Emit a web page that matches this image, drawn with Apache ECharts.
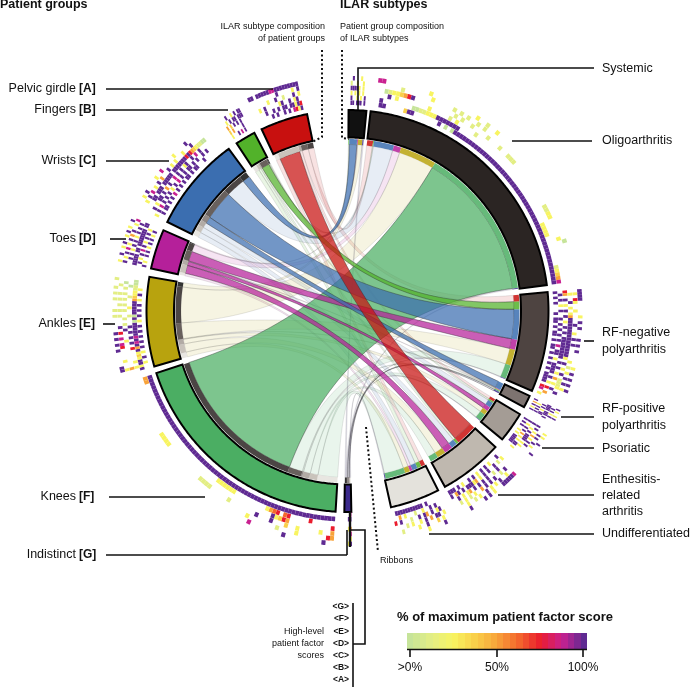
<!DOCTYPE html>
<html><head><meta charset="utf-8">
<style>html,body{margin:0;padding:0;background:#fff}#c{width:695px;height:687px}</style>
<script src="https://cdn.jsdelivr.net/npm/echarts@6/dist/echarts.min.js"></script>
</head><body><div id="c"></div>
<script>
// ---------- data ----------
const patientGroups = ['Pelvic girdle','Fingers','Wrists','Toes','Ankles','Knees','Indistinct'];
const ilarSubtypes = ['Systemic','Oligoarthritis','RF-negative polyarthritis','RF-positive polyarthritis','Psoriatic','Enthesitis-related arthritis','Undifferentiated'];
// flows, rows = patient groups, columns = ILAR subtypes
const flowPelvic     = [0,   2.0,  2.2, 0,   0.9, 7.2, 1.4];
const flowFingers    = [0.3, 0.3,  2.6, 0,   0.5, 0.8, 1.4];
const flowWrists     = [2.6, 6.8, 10.2, 2.3, 1.8, 2.0, 1.8];
const flowToes       = [0.3, 2.5,  3.4, 0.2, 1.4, 2.8, 0.9];
const flowAnkles     = [1.5,12.4,  5.5, 0.2, 1.6, 2.9, 1.7];
const flowKnees      = [0,  51.6,  4.7, 0.4, 2.4, 2.7, 6.8];
const flowIndistinct = [0.4, 0.4,  0.2, 0.5, 0.2, 0,   0.3];
const flows = [flowPelvic,flowFingers,flowWrists,flowToes,flowAnkles,flowKnees,flowIndistinct];
// ribbons drawn strongly [group, subtype], in paint order
const strongRibbons = [[5,1],[6,3],[4,-1],[3,2],[3,4],[3,5],[2,2],[2,0],[2,3],[1,2],[0,5]].filter(p=>p[1]>=0);
// heat strings: one per factor ring A..F(,G); digit 1-9 = share of maximum score
const heatPelvic = ["99.9999988999999999","..........9.....3.9","......3..9..2...9.3","..3.9.....39..9.39","....9..9.9.99.99397","......9.9..9.9.8739"];
const heatFingers = ["","..9..3.9.99",".3.9.99.999","5.4.9.9.9","4.5.....9","3...9.8.9"];
const heatWrists = ["....3.9.....3..8......3.....9","...3.9.8.3.9.5...9.3.3...3...9",".....99.999.99999.99999997975432211","..9.3.99.9.5.9..8.9.9.39..9.8.9","3.9.8.9.9.9.3.9.8.9.9.99.9.9..9.9","..9.99.9.9.8.9.9.9.99.9.99...9"];
const heatToes = ["3..9..3.9..3.9.3..9","9.3.9.8.3.9.5.9..3.8","..9.9.3.9.9.3.9.9.9.","99999.99.99999999.99",".9.3.9.8.9.3.9.9.3..","9.3..9.9.3.9.9.3.9"];
const heatAnkles = [".99.....9.9.9.9.....2.2...2.2.2..2",".3..3....78.8.7.9...2.2.2.2.2..2",".5.........3...9.2.2..2.2.2.2.2.1",".3.3....7.9.9.9.9...2..3...2...1","9399343959898999991919999954332211","..3.9.3.9.9.9.9.9.3.9.9.9.3.9.3"];
const heatKnees = ["..9.........9........8","57.......3....2.......3","5..3.....3..4...9...9.......2.....2222...........3333","7...........57439","......7.....76.7653.........333333................................55","99999999999999999999999999999999999999999999999999999999999999999999"];
const heatIndistinct = ["9.3","3.","8.","5.3",".9","9.9","8."];
const heatSystemic = ["..9...3...",".2..3..3..",".99993.3..",".3.3.3.3..",".9..3.3.9.",".99.999.9."];
const heatOligo = [".88...........3............3..2..3",".......2.......3.....2.2.2..2.2..................................1",
 "...12334579...........2.2..2....2...2..222.............2233.....3","....9.3........3.....2.3.....2","..9........11223339999999..................................3333........23458",
 "..99.....499.......9.1.19999999999999999999999999999999999999999999999999999"];
const heatRFneg = ["9999.....3.9.9...9.9.9.....3.9.9.9.9",".3.73..3....9..3.9.9.....3.2.3.9.9.3.",".3..9.3.35999999999999993.9.3.9.2223.9..","75.9.3.9.9.3.9.9.99999999.9.9.3.5.3.9.",".9.9.3.9..9.9.9.9.9.8.99.3.9999.9.3.7.5","9.9.9...9.99.9.99.9.99.9.9.9.9.9999.78.3"];
const heatRFpos = ["9.3..3.9..",".9.9.3.9.","9999.999.9",".9.9.3.99.","..3.9.9.9","9.5.9.3.9"];
const heatPsoriatic = ["..3.3...9.....9","....9.9..9.3","9.9.3.5.3.9.9","9..3.9.9999.3.3","9.3.9.9.5.3.3.99.3","9.9.9..3.3.99999"];
const heatEnth = ["..899999...3.9.9.....9....","....3..9.3.3.9..3.2..3...","...9.2..9.9.9.5..3.2.3.2.",".....9.2..9.9.9.9.53.3.9",".3.2.9..9.9.3.53999.9.95.9","..9...3.9.9.3.9.9..3.9.999"];
const heatUndiff = ["..9.....3....","..3.4...9..3.....2",".3.99.5.9.3..3.2..","..93.9.59.9..2...9.7","...9.9..3..2...3.5","......9.99999999999"];
const heatBySubtype = [heatSystemic,heatOligo,heatRFneg,heatRFpos,heatPsoriatic,heatEnth,heatUndiff];
const heatByGroup = [heatPelvic,heatFingers,heatWrists,heatToes,heatAnkles,heatKnees,heatIndistinct];
const heatCellCounts = {group:[20,12,40,20,36,68,6], subtype:[10,76,40,10,18,26,20]};
const scalePalette = ['#c6e49a','#e3ee84','#f8f461','#f9cf49','#f8a33a','#f3672d','#ea1c2d','#c92190','#5f2a92'];
const scaleTicks = ['>0%','50%','100%'];
const factorLabels = ['<G>','<F>','<E>','<D>','<C>','<B>','<A>'];

// ---------- layout / styles ----------
const groupColors = ['#c8100f','#52b22a','#3b6eb0','#b5209a','#b8a30e','#4bae63','#3b2a8c'];
const subtypeColors = ['#111111','#2b2523','#4e4441','#7d7370','#a49c95','#bfb8af','#e4e2dc'];
const groupStarts = [334.7,326.5,296.3,282.2,254.0,183.4,178.9];
const subtypeStarts = [0.3,6.6,84.6,115.0,120.9,132.6,153.2];
const R = {ribbon:166.5, band:172, arc0:173.5, arc1:201, heat0:230.5, heatStep:4.9, heatW:4.6};

const sum = a => a.reduce((x,y)=>x+y,0);
const colSum = j => sum(flows.map(r=>r[j]));
// non-crossing ordering: within a group subtypes run in reverse; within a subtype groups run forward
const groupOrder = [0,1,2,3,4,5,6];
const links = [];
flows.forEach((row,g)=>{
  let a = groupStarts[g];
  for (let s=6;s>=0;s--){ if(row[s]>0){ links.push({g,s,v:row[s],a0:a,a1:a+row[s]}); a+=row[s]; } }
});
subtypeStarts.forEach((st,s)=>{
  let b = st;
  groupOrder.forEach(g=>{
    const l = links.find(k=>k.g===g&&k.s===s);
    if(l){ l.b0=b; l.b1=b+l.v; b+=l.v; }
  });
});
const strongIndex = (l)=>strongRibbons.findIndex(p=>p[0]===l.g&&p[1]===l.s);
links.sort((x,y)=>strongIndex(x)-strongIndex(y));

const arcs = [];
flows.forEach((row,g)=>arcs.push({a0:groupStarts[g],a1:groupStarts[g]+sum(row),c:groupColors[g]}));
subtypeStarts.forEach((st,s)=>arcs.push({a0:st,a1:st+colSum(s),c:subtypeColors[s]}));

const heatCells = [];
function addHeat(rows,a0,a1,n){
  const w=(a1-a0)/n;
  rows.forEach((str,row)=>{
    for(let i=0;i<str.length&&i<n;i++){
      const ch=str[i]; if(ch==='.')continue;
      heatCells.push([a0+i*w,a0+(i+1)*w,row,+ch]);
    }
  });
}
heatByGroup.forEach((rows,g)=>addHeat(rows,arcs[g].a0,arcs[g].a1,heatCellCounts.group[g]));
heatBySubtype.forEach((rows,s)=>addHeat(rows,arcs[7+s].a0,arcs[7+s].a1,heatCellCounts.subtype[s]));

function arcPts(api,r,a0,a1){
  const n=Math.max(2,Math.ceil(Math.abs(a1-a0)/0.5)); const p=[];
  for(let i=0;i<=n;i++) p.push(api.coord([r,a0+(a1-a0)*i/n]));
  return p;
}
function bez(A,C,B){
  const p=[]; for(let i=1;i<40;i++){const t=i/40,u=1-t;
    p.push([u*u*A[0]+2*u*t*C[0]+t*t*B[0],u*u*A[1]+2*u*t*C[1]+t*t*B[1]]);}
  return p;
}
function hex(c,o){const n=parseInt(c.slice(1),16);return `rgba(${n>>16},${(n>>8)&255},${n&255},${o})`;}

const ribbonRender=(params,api)=>{
  const l=links[params.dataIndex]; const strong=strongIndex(l)>=0;
  const c=api.coord([0,0]);
  const A0=api.coord([R.ribbon,l.a0]),A1=api.coord([R.ribbon,l.a1]),B0=api.coord([R.ribbon,l.b0]),B1=api.coord([R.ribbon,l.b1]);
  const pts=[].concat(arcPts(api,R.ribbon,l.a0,l.a1),bez(A1,c,B0),arcPts(api,R.ribbon,l.b0,l.b1),bez(B1,c,A0));
  const band=(a0,a1,col)=>({type:'polygon',shape:{points:arcPts(api,R.band,a0,a1).concat(arcPts(api,R.ribbon,a1,a0))},style:{fill:col,opacity:.85}});
  return {type:'group',children:[
    {type:'polygon',shape:{points:pts},style:{fill:hex(groupColors[l.g],strong?(l.g===6?.1:.72):.12),stroke:strong?'rgba(40,40,40,.55)':'rgba(70,70,70,.22)',lineWidth:strong?.7:.6}},
    band(l.a0,l.a1,subtypeColors[l.s]),
    band(l.b0,l.b1,groupColors[l.g])
  ]};
};
const arcRender=(params,api)=>{
  const a=arcs[params.dataIndex];
  return {type:'polygon',shape:{points:arcPts(api,R.arc1,a.a0,a.a1).concat(arcPts(api,R.arc0,a.a1,a.a0))},
    style:{fill:a.c,stroke:'#000',lineWidth:2,lineJoin:'miter'}};
};
const heatRender=(params,api)=>{
  const h=heatCells[params.dataIndex];
  const r0=R.heat0-h[2]*R.heatStep, r1=r0+R.heatW;
  return {type:'polygon',shape:{points:arcPts(api,r1,h[0],h[1]).concat(arcPts(api,r0,h[1],h[0]))},
    style:{fill:scalePalette[h[3]-1]}};
};

// ---------- annotation ----------
const ink='#111';
const G=[];
const T=(text,x,y,size,o={})=>G.push({type:'text',x,y,silent:true,z:20,style:Object.assign({text,fill:ink,font:`${o.bold?'bold ':''}${size}px "Liberation Sans",Arial,sans-serif`,textAlign:o.align||'left',textVerticalAlign:'middle'},{})});
const L=(pts,w=1.6,dash)=>G.push({type:'polyline',silent:true,z:20,shape:{points:pts},style:{stroke:'#111',lineWidth:w,fill:null,lineDash:dash||null}});
T('Patient groups',0,5,12.5,{bold:1});
T('ILAR subtypes',340,5,12.5,{bold:1});
T('ILAR subtype composition',325,27,9,{align:'right'});
T('of patient groups',325,39,9,{align:'right'});
T('Patient group composition',340,27,9);
T('of ILAR subtypes',340,39,9);
const leftLabels=[['Pelvic girdle','[A]',89,273],['Fingers','[B]',110,228],['Wrists','[C]',161,169],['Toes','[D]',239,126],['Ankles','[E]',324,115],['Knees','[F]',497,205],['Indistinct','[G]',555,347]];
const leftLineStart=[106,106,106,110,103,109,106];
leftLabels.forEach((l,i)=>{
  T(l[0],76,l[2],12.5,{align:'right'}); T(l[1],79,l[2],12,{bold:1});
  L([[leftLineStart[i],l[2]],[l[3],l[2]]]);
});
L([[347,555],[347,530]]);
L([[358,110],[358,68],[594,68]]); T('Systemic',602,69,12.5);
L([[512,141],[592,141]]); T('Oligoarthritis',602,141,12.5);
L([[584,341],[594,341]]); T('RF-negative',602,333,12.5); T('polyarthritis',602,350,12.5);
L([[561,417],[594,417]]); T('RF-positive',602,409,12.5); T('polyarthritis',602,426,12.5);
L([[542,448],[594,448]]); T('Psoriatic',602,449,12.5);
L([[498,495],[594,495]]); T('Enthesitis-',602,480,12.5); T('related',602,496,12.5); T('arthritis',602,512,12.5);
L([[429,534],[594,534]]); T('Undifferentiated',602,534,12.5);
L([[322,50],[322,137],[312,142]],2,[2,2.5]);
L([[342,50],[342,138],[349,139]],2,[2,2.5]);
L([[366,427],[378,552]],2,[2,2.5]);
T('Ribbons',380,561,9);
L([[350,512],[350,547]],2.4);
L([[351,530],[365,530],[365,644],[353,644]]);
L([[353,603],[353,687]]);
factorLabels.forEach((t,i)=>T(t,349,607+i*12.15,8.5,{align:'right',bold:1}));
T('High-level',324,632,9,{align:'right'});
T('patient factor',324,644,9,{align:'right'});
T('scores',324,656,9,{align:'right'});
T('% of maximum patient factor score',397,617,13,{bold:1});
// legend bar: stepped colours from the scale
const stops=[];const nSteps=28;
function lerpPal(t){const x=t*8,i=Math.min(7,Math.floor(x)),f=x-i;
  const a=parseInt(scalePalette[i].slice(1),16),b=parseInt(scalePalette[i+1].slice(1),16);
  const m=s=>Math.round(((a>>s)&255)*(1-f)+((b>>s)&255)*f);return `rgb(${m(16)},${m(8)},${m(0)})`;}
for(let i=0;i<nSteps;i++){const c=lerpPal(i/(nSteps-1));stops.push({offset:i/nSteps,color:c},{offset:(i+1)/nSteps,color:c});}
G.push({type:'rect',silent:true,z:19,shape:{x:407,y:633,width:180,height:16},style:{fill:new echarts.graphic.LinearGradient(0,0,1,0,stops)}});
L([[407,649.5],[587,649.5]],1.6);
[410,497,583].forEach((x,i)=>{L([[x,649],[x,657]],1.6);T(scaleTicks[i],x,668,12,{align:'center'});});

const chart=echarts.init(document.getElementById('c'),null,{renderer:'canvas'});
const customBase={type:'custom',coordinateSystem:'polar',silent:true,animation:false,clip:false};
chart.setOption({
  animation:false,
  backgroundColor:'#fff',
  polar:{center:[347.5,311],radius:340},
  angleAxis:{type:'value',min:0,max:360,startAngle:90,clockwise:true,show:false},
  radiusAxis:{type:'value',min:0,max:340,show:false},
  tooltip:{show:false},
  series:[
    Object.assign({},customBase,{z:2,renderItem:ribbonRender,data:links.map(l=>[l.g,l.s,l.v])}),
    Object.assign({},customBase,{z:3,renderItem:arcRender,data:arcs.map((a,i)=>[i,a.a1-a.a0])}),
    Object.assign({},customBase,{z:4,renderItem:heatRender,data:heatCells.map(h=>[h[2],h[0],h[3]])})
  ],
  graphic:{elements:G}
});
</script></body></html>
